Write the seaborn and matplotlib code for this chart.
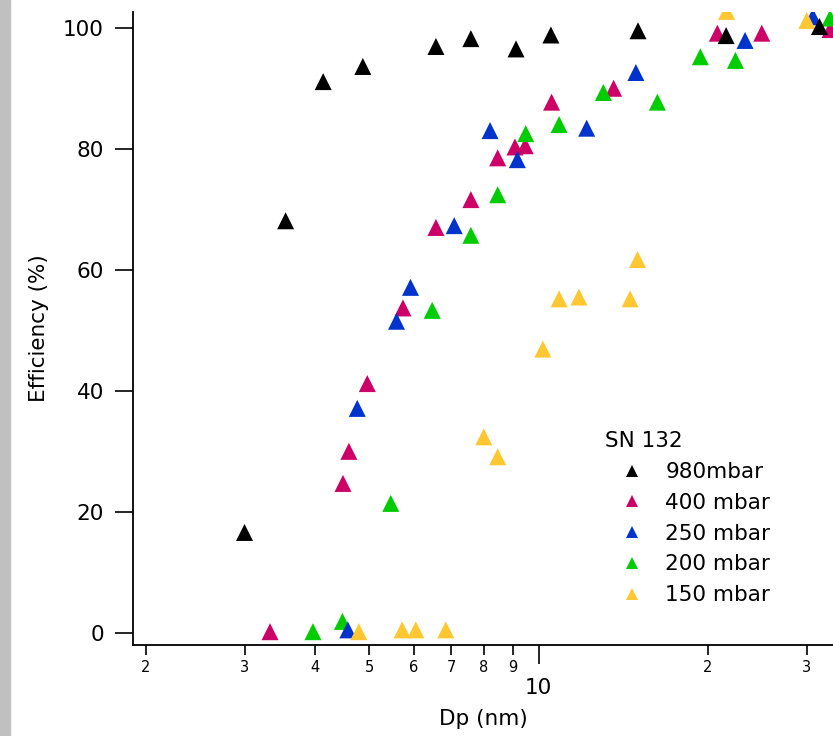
import numpy as np
import pandas as pd
import seaborn as sns
import matplotlib.pyplot as plt
from matplotlib.patches import Rectangle
from matplotlib.ticker import LogLocator, FuncFormatter

# Datos (Dp en nm, eficiencia en %)
dp_980 = [3.0, 3.55, 4.14, 4.87, 6.57, 7.58, 9.12, 10.52, 15.03, 21.56, 31.6]
ef_980 = [16.6, 68.1, 91.1, 93.6, 96.9, 98.2, 96.5, 98.8, 99.5, 98.7, 100.2]

dp_400 = [3.33, 4.49, 4.60, 4.96, 5.74, 6.57, 7.58, 8.46, 9.08, 9.47, 10.55, 13.6, 20.8, 24.95, 33.0]
ef_400 = [0.2, 24.7, 30.0, 41.2, 53.7, 67.0, 71.6, 78.5, 80.3, 80.5, 87.7, 90.0, 99.1, 99.1, 99.7]

dp_250 = [4.58, 4.76, 5.59, 5.92, 7.08, 8.20, 9.17, 12.18, 14.9, 23.3, 30.75]
ef_250 = [0.5, 37.1, 51.5, 57.1, 67.3, 83.0, 78.2, 83.4, 92.6, 97.9, 101.8]

dp_200 = [3.97, 4.48, 5.46, 6.47, 7.58, 8.46, 9.49, 10.88, 13.04, 16.27, 19.4, 22.4, 33.0]
ef_200 = [0.2, 1.9, 21.4, 53.3, 65.7, 72.4, 82.5, 84.0, 89.3, 87.7, 95.2, 94.6, 101.6]

dp_150 = [4.79, 5.72, 6.05, 6.84, 7.99, 8.46, 10.18, 10.88, 11.80, 14.55, 15.0, 21.6, 30.0]
ef_150 = [0.2, 0.5, 0.5, 0.5, 32.4, 29.1, 46.9, 55.2, 55.5, 55.2, 61.7, 102.7, 101.2]

series = ['980mbar', '400 mbar', '250 mbar', '200 mbar', '150 mbar']
colores = ['#000000', '#cc0066', '#0033cc', '#00cc00', '#ffc832']

# orden de dibujo (el ultimo queda arriba)
partes = [
    ('400 mbar', dp_400, ef_400),
    ('200 mbar', dp_200, ef_200),
    ('250 mbar', dp_250, ef_250),
    ('150 mbar', dp_150, ef_150),
    ('980mbar', dp_980, ef_980),
]
df = pd.concat([pd.DataFrame({'Dp': x, 'Ef': y, 'serie': s}) for s, x, y in partes],
               ignore_index=True)

sns.set_style('white')
plt.rcParams['font.family'] = ['DejaVu Sans']
plt.rcParams['text.color'] = 'black'
plt.rcParams['axes.labelcolor'] = 'black'

fig = plt.figure(figsize=(8.33, 7.36), dpi=100)
fig.patches.append(Rectangle((0, 0), 10 / 833, 1, transform=fig.transFigure,
                             color='#c0c0c0', zorder=0))
ax = fig.add_axes([133 / 833, 1 - 645 / 736, 1 - 133 / 833, (645 - 12) / 736])

sns.scatterplot(data=df, x='Dp', y='Ef', hue='serie', hue_order=series,
                palette=colores, marker='^', s=150, linewidth=0, ax=ax)

ax.set_xscale('log')
ax.set_xlim(1.9, 33.4)
ax.set_ylim(-2, 102.6)

ax.xaxis.set_major_locator(LogLocator(base=10, subs=[1.0]))
ax.xaxis.set_minor_locator(LogLocator(base=10, subs=np.arange(2, 10)))
ax.xaxis.set_major_formatter(FuncFormatter(lambda v, p: '%d' % round(v)))
ax.xaxis.set_minor_formatter(
    FuncFormatter(lambda v, p: '%d' % round(v / 10 ** np.floor(np.log10(v) + 1e-9))))
ax.set_yticks([0, 20, 40, 60, 80, 100])

for lado in ['top', 'right']:
    ax.spines[lado].set_visible(False)
for lado in ['left', 'bottom']:
    ax.spines[lado].set_color('black')
    ax.spines[lado].set_linewidth(1.3)

ax.tick_params(axis='y', which='major', direction='out', length=13, width=1.2,
               labelsize=15.5, pad=8, left=True, colors='black')
ax.tick_params(axis='x', which='major', direction='out', length=14, width=1.2,
               labelsize=15.5, pad=10, bottom=True, colors='black')
ax.tick_params(axis='x', which='minor', direction='out', length=7, width=1.2,
               labelsize=10.5, pad=4, bottom=True, colors='black')

ax.set_xlabel('Dp (nm)', fontsize=15.5, labelpad=8)
ax.set_ylabel('Efficiency (%)', fontsize=15.5, labelpad=10)

sns.move_legend(ax, loc='upper left', bbox_to_anchor=(600 / 833, 1 - 426 / 736),
                bbox_transform=fig.transFigure, title='SN 132', frameon=False,
                fontsize=15.5, title_fontsize=15.5, labelspacing=0.5, borderpad=0.25,
                borderaxespad=0, handlelength=2.5, handletextpad=0.28,
                markerscale=0.75, alignment='left')

plt.savefig('out.png', dpi=100)
